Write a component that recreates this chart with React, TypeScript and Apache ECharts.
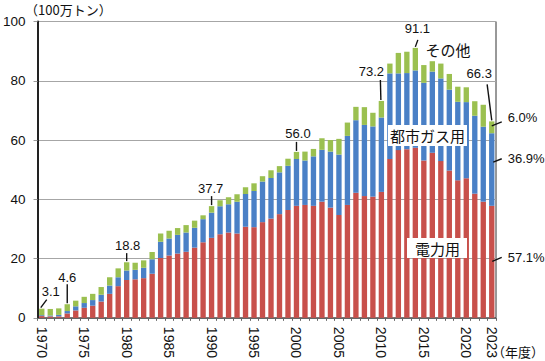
import { useEffect, useRef } from "react";
import * as echarts from "echarts";

// ---- data ----
const years = [
  "1970","1971","1972","1973","1974","1975","1976","1977","1978","1979",
  "1980","1981","1982","1983","1984","1985","1986","1987","1988","1989",
  "1990","1991","1992","1993","1994","1995","1996","1997","1998","1999",
  "2000","2001","2002","2003","2004","2005","2006","2007","2008","2009",
  "2010","2011","2012","2013","2014","2015","2016","2017","2018","2019",
  "2020","2021","2022","2023",
];
// 電力用
const power = [
  0.6, 0.5, 0.5, 1.5, 2.5, 3.4, 4.1, 5.5, 8.1, 10.7,
  12.8, 13.0, 13.4, 14.9, 20.2, 21.0, 21.7, 22.3, 23.7, 25.5,
  27.0, 28.2, 28.8, 28.5, 30.7, 30.6, 32.3, 33.5, 35.0, 36.4,
  37.8, 38.1, 37.8, 39.2, 37.2, 34.7, 38.1, 42.2, 41.1, 40.9,
  42.5, 53.6, 56.6, 56.9, 57.4, 53.1, 55.7, 52.9, 49.7, 46.4,
  47.1, 41.9, 39.2, 37.8,
];
// 都市ガス用
const cityGas = [
  0.3, 0.3, 0.5, 0.8, 1.4, 1.6, 1.9, 2.3, 2.8, 3.0,
  3.2, 3.2, 3.5, 4.9, 5.5, 5.8, 6.3, 6.5, 6.7, 7.8,
  8.5, 9.5, 9.5, 10.7, 11.1, 12.2, 13.7, 13.7, 14.1, 14.9,
  15.8, 15.0, 16.7, 17.5, 18.9, 20.4, 23.3, 24.5, 24.0, 23.7,
  25.1, 28.9, 25.9, 25.7, 26.1, 26.2, 27.4, 27.9, 27.3, 26.5,
  25.7, 26.3, 25.3, 24.5,
];
// その他
const other = [
  2.2, 2.2, 2.2, 2.3, 1.9, 2.1, 2.1, 2.6, 2.8, 3.0,
  2.8, 2.4, 2.5, 2.4, 2.8, 2.6, 2.3, 2.5, 2.4, 1.3,
  2.2, 2.0, 2.4, 2.5, 2.3, 2.6, 1.8, 2.6, 2.1, 2.4,
  2.4, 3.0, 2.5, 3.9, 3.9, 5.3, 4.5, 4.5, 6.0, 4.6,
  5.6, 3.3, 6.9, 7.2, 7.6, 6.0, 3.5, 5.0, 5.3, 5.1,
  5.0, 4.9, 7.4, 4.0,
];
const yTicks = [0, 20, 40, 60, 80, 100];
const calloutYears = ["1970", "1973", "1980", "1990", "2000", "2010", "2014", "2023"];
const share2023 = ["57.1%", "36.9%", "6.0%"]; // 電力用, 都市ガス用, その他
const seriesNames = ["電力用", "都市ガス用", "その他"];

// ---- layout (pixel offsets relative to bar top) ----
const calloutLayout: Record<string, { t: [number, number]; l: [number, number, number, number] }> = {
  "1970": { t: [9, -17], l: [-1, -1, 5, -9] },
  "1973": { t: [0, -27], l: [0, -1, 0, -20] },
  "1980": { t: [1, -17], l: [0, -1, 0, -9] },
  "1990": { t: [-1, -18], l: [0, -1, 0, -10] },
  "2000": { t: [1.5, -18], l: [0, -1, 0, -10] },
  "2010": { t: [-10, -29], l: [-0.5, -1, -1, -21] },
  "2014": { t: [2, -19], l: [0, -1, 2.5, -8] },
  "2023": { t: [-12.5, -48], l: [0, -1, -4.6, -37] },
};

const FONT = "'Liberation Sans', Arial, 'Noto Sans CJK JP', sans-serif";
const JFONT = "'Noto Sans CJK JP', 'Liberation Sans', sans-serif";

export default function App() {
  const ref = useRef<HTMLDivElement>(null);
  useEffect(() => {
    if (!ref.current) return;
    const chart = echarts.init(ref.current, null, { renderer: "svg" });
    const option: any = {
      animation: false,
      backgroundColor: "#ffffff",
      textStyle: { fontFamily: FONT },
      grid: {
        left: 34, right: 49, top: 21.5, bottom: 40.5,
        show: true, borderColor: "#333", borderWidth: 1, backgroundColor: "transparent",
      },
      xAxis: {
        type: "category",
        data: years,
        axisLine: { lineStyle: { color: "#666", width: 1 } },
        axisTick: { show: true, interval: 0, length: 3, lineStyle: { color: "#666" } },
        axisLabel: {
          rotate: -90,
          margin: 9,
          fontSize: 14,
          color: "#111",
          fontFamily: FONT,
          interval: (i: number, v: string) => Number(v) % 5 === 0 || v === "2023",
        },
      },
      yAxis: {
        type: "value",
        min: yTicks[0],
        max: yTicks[yTicks.length - 1],
        interval: 20,
        axisLine: { show: true, lineStyle: { color: "#222", width: 2 } },
        axisTick: { show: true, length: 4, lineStyle: { color: "#999" } },
        axisLabel: { fontSize: 13.5, color: "#111", margin: 12, fontFamily: FONT },
        splitLine: { lineStyle: { color: "#a6a6a6", width: 1 } },
      },
      series: [
        { name: seriesNames[0], type: "bar", stack: "t", data: power, barWidth: "63%", itemStyle: { color: "#c8504b" } },
        { name: seriesNames[1], type: "bar", stack: "t", data: cityGas, barWidth: "63%", itemStyle: { color: "#4a80c6" } },
        { name: seriesNames[2], type: "bar", stack: "t", data: other, barWidth: "63%", itemStyle: { color: "#9bc050" } },
      ],
    };
    chart.setOption(option);

    const px = (idx: number, v: number) =>
      chart.convertToPixel({ xAxisIndex: 0, yAxisIndex: 0 }, [idx, v]) as number[];

    const g: any[] = [];
    const lineStyle = { stroke: "#111", lineWidth: 1.4 };
    calloutYears.forEach((y) => {
      const i = years.indexOf(y);
      const total = power[i] + cityGas[i] + other[i];
      const [bx, by] = px(i, total);
      const L = calloutLayout[y];
      g.push({
        type: "line", z: 100,
        shape: { x1: bx + L.l[0], y1: by + L.l[1], x2: bx + L.l[2], y2: by + L.l[3] },
        style: lineStyle,
      });
      g.push({
        type: "text", z: 100, x: bx + L.t[0], y: by + L.t[1],
        style: { text: total.toFixed(1), fontSize: 13, fontFamily: FONT, fill: "#111", align: "center", verticalAlign: "middle" },
      });
    });

    // share labels for last year
    const last = years.length - 1;
    const segMid = [
      power[last] / 2,
      power[last] + cityGas[last] / 2,
      power[last] + cityGas[last] + other[last] / 2,
    ];
    const shareOff = [
      { l: [0.5, -0.5, 10, -4.5], t: [16, -4.5] },
      { l: [1.5, -7.5, 10, -10.8], t: [16, -11.5] },
      { l: [0, -1.5, 10, -5.5], t: [16, -9.5] },
    ];
    segMid.forEach((v, k) => {
      const [bx, by] = px(last, v);
      const o = shareOff[k];
      g.push({
        type: "line", z: 100,
        shape: { x1: bx + o.l[0], y1: by + o.l[1], x2: bx + o.l[2], y2: by + o.l[3] },
        style: lineStyle,
      });
      g.push({
        type: "text", z: 100, x: bx + o.t[0], y: by + o.t[1],
        style: { text: share2023[k], fontSize: 13, fontFamily: FONT, fill: "#111", align: "left", verticalAlign: "middle" },
      });
    });

    // series name labels
    g.push({ type: "rect", z: 99, shape: { x: 388, y: 125, width: 79, height: 21 }, style: { fill: "#fff" } });
    g.push({
      type: "text", z: 100, x: 427.5, y: 135.5,
      style: { text: seriesNames[1], fontSize: 15, fontFamily: JFONT, fill: "#111", align: "center", verticalAlign: "middle" },
    });
    g.push({ type: "rect", z: 99, shape: { x: 407, y: 238, width: 60, height: 20 }, style: { fill: "#fff" } });
    g.push({
      type: "text", z: 100, x: 437.5, y: 248,
      style: { text: seriesNames[0], fontSize: 15, fontFamily: JFONT, fill: "#111", align: "center", verticalAlign: "middle" },
    });
    g.push({
      type: "text", z: 100, x: 448, y: 49,
      style: { text: seriesNames[2], fontSize: 15, fontFamily: JFONT, fill: "#111", align: "center", verticalAlign: "middle" },
    });

    // axis titles
    g.push({
      type: "text", z: 100, x: 25, y: 9,
      style: { text: "（100万トン）", fontSize: 13, fontFamily: JFONT, fill: "#111", align: "left", verticalAlign: "middle" },
    });
    g.push({
      type: "text", z: 100, x: 544, y: 351,
      style: { text: "（年度）", fontSize: 13, fontFamily: JFONT, fill: "#111", align: "right", verticalAlign: "middle" },
    });

    chart.setOption({ graphic: { elements: g } });

    return () => chart.dispose();
  }, []);
  return <div ref={ref} style={{ position: "absolute", left: 0, top: 0, width: 545, height: 361 }} />;
}
